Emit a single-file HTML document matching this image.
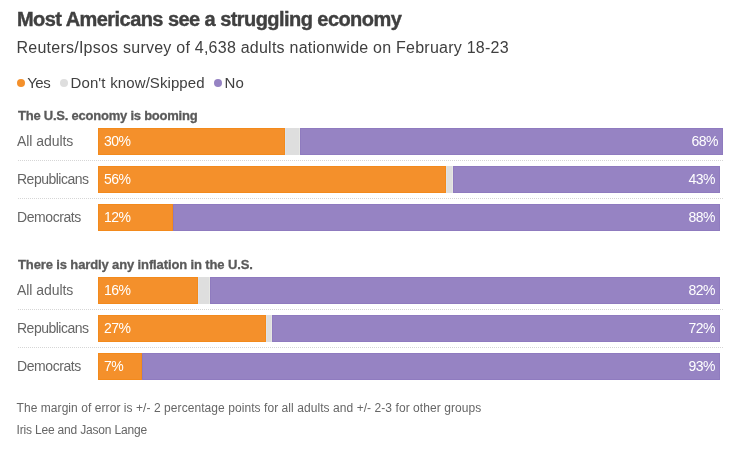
<!DOCTYPE html>
<html><head><meta charset="utf-8">
<style>
*{margin:0;padding:0;box-sizing:border-box}
html,body{width:747px;height:449px;background:#fff;overflow:hidden}
body{position:relative;will-change:transform;font-family:"Liberation Sans",sans-serif;color:#404040}
.t{position:absolute;white-space:nowrap}
#title{left:17px;top:9px;font-size:20px;line-height:20px;font-weight:bold;color:#404040;letter-spacing:-0.56px;-webkit-text-stroke:0.4px #404040}
#sub{left:16.5px;top:39.5px;font-size:16px;line-height:16px;color:#404040;letter-spacing:0.24px}
.lg{top:75.5px;font-size:15px;line-height:14px;color:#404040}
.dot{position:absolute;width:8px;height:8px;border-radius:50%;top:79px}
.sec{font-size:13px;line-height:13px;font-weight:bold;color:#5a5a5a;left:18px;letter-spacing:-0.23px;-webkit-text-stroke:0.3px #5a5a5a}
.lab{font-size:14px;line-height:13px;color:#666;left:17px}
.bar{position:absolute;height:27px}
.o{background:#f4902b;box-shadow:inset 0 0 0 1px #f38a1c}
.g{background:#dedede;box-shadow:inset 1px 0 0 #dde3ea,inset -1px 0 0 #e6e7e3}
.p{background:#9683c3;box-shadow:inset 0 0 0 1px #8f7bbf}
.pl{font-size:14px;line-height:13px;color:#fff;letter-spacing:-0.5px}
.dl{position:absolute;left:18px;width:705px;height:1px;background-image:linear-gradient(to right,#d6d6d6 0,#d6d6d6 1px,transparent 1px);background-size:2px 1px}
.fn{font-size:12px;line-height:12px;color:#666;left:16.5px;letter-spacing:0.065px}
</style></head><body>
<div class="t m" id="title">Most Americans see a struggling economy</div>
<div class="t m" id="sub">Reuters/Ipsos survey of 4,638 adults nationwide on February 18-23</div>

<div class="dot" style="left:17px;background:#f4902b"></div>
<div class="t lg m" style="left:27.2px;letter-spacing:-0.5px">Yes</div>
<div class="dot" style="left:60px;background:#dedede"></div>
<div class="t lg m" style="left:70.6px;letter-spacing:0.08px;word-spacing:0.5px">Don't know/Skipped</div>
<div class="dot" style="left:214px;background:#9683c3"></div>
<div class="t lg m" style="left:224.6px">No</div>

<div class="t sec m" style="top:109px">The U.S. economy is booming</div>

<div class="t lab m" style="top:134.5px;letter-spacing:-0.05px">All adults</div>
<div class="bar o" style="left:98px;top:128px;width:187px"></div>
<div class="bar g" style="left:285px;top:128px;width:15px"></div>
<div class="bar p" style="left:300px;top:128px;width:423px"></div>
<div class="t pl m" style="left:104px;top:134.5px">30%</div>
<div class="t pl m" style="right:29px;top:134.5px">68%</div>
<div class="dl" style="top:160px"></div>

<div class="t lab m" style="top:172.5px;letter-spacing:-0.5px">Republicans</div>
<div class="bar o" style="left:98px;top:166px;width:348px"></div>
<div class="bar g" style="left:446px;top:166px;width:7px"></div>
<div class="bar p" style="left:453px;top:166px;width:267px"></div>
<div class="t pl m" style="left:104px;top:172.5px">56%</div>
<div class="t pl m" style="right:32px;top:172.5px">43%</div>
<div class="dl" style="top:198px"></div>

<div class="t lab m" style="top:210.5px;letter-spacing:-0.42px">Democrats</div>
<div class="bar o" style="left:98px;top:204px;width:75px"></div>
<div class="bar p" style="left:173px;top:204px;width:547px"></div>
<div class="t pl m" style="left:104px;top:210.5px">12%</div>
<div class="t pl m" style="right:32px;top:210.5px">88%</div>

<div class="t sec m" style="top:258px;letter-spacing:-0.125px">There is hardly any inflation in the U.S.</div>

<div class="t lab m" style="top:283.5px;letter-spacing:-0.05px">All adults</div>
<div class="bar o" style="left:98px;top:277px;width:100px"></div>
<div class="bar g" style="left:198px;top:277px;width:12px"></div>
<div class="bar p" style="left:210px;top:277px;width:510px"></div>
<div class="t pl m" style="left:104px;top:283.5px">16%</div>
<div class="t pl m" style="right:32px;top:283.5px">82%</div>
<div class="dl" style="top:309px"></div>

<div class="t lab m" style="top:321.5px;letter-spacing:-0.5px">Republicans</div>
<div class="bar o" style="left:98px;top:315px;width:168px"></div>
<div class="bar g" style="left:266px;top:315px;width:6px"></div>
<div class="bar p" style="left:272px;top:315px;width:448px"></div>
<div class="t pl m" style="left:104px;top:321.5px">27%</div>
<div class="t pl m" style="right:32px;top:321.5px">72%</div>
<div class="dl" style="top:347px"></div>

<div class="t lab m" style="top:359.5px;letter-spacing:-0.42px">Democrats</div>
<div class="bar o" style="left:98px;top:353px;width:44px"></div>
<div class="bar p" style="left:142px;top:353px;width:578px"></div>
<div class="t pl m" style="left:104px;top:359.5px">7%</div>
<div class="t pl m" style="right:32px;top:359.5px">93%</div>

<div class="t fn m" style="top:401.8px">The margin of error is +/- 2 percentage points for all adults and +/- 2-3 for other groups</div>
<div class="t fn m" style="top:423.8px;letter-spacing:-0.18px">Iris Lee and Jason Lange</div>
</body></html>
